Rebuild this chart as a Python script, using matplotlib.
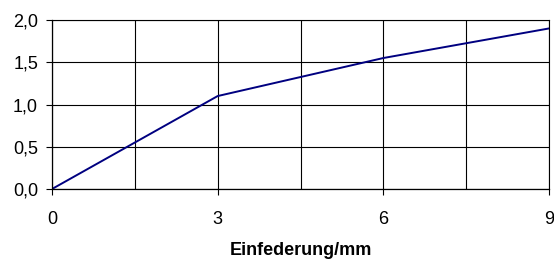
import numpy as np
import matplotlib.pyplot as plt

plt.rcParams['font.family'] = ['Liberation Sans', 'DejaVu Sans']

# Daten
einfederung = [0, 3, 6, 9]
kraft = [0.0, 1.1, 1.55, 1.9]
xticks = [0, 3, 6, 9]
yticks = [0.0, 0.5, 1.0, 1.5, 2.0]

fig = plt.figure(figsize=(5.54, 2.59), dpi=100)
ax = fig.add_axes([52/554, 1-189/259, 497/554, 169/259])

ax.plot(einfederung, kraft, color='#000080', linewidth=1.4, solid_joinstyle='miter')

ax.set_xlim(0, 9)
ax.set_ylim(0, 2)
ax.set_xticks(xticks)
ax.set_xticks([1.5, 4.5, 7.5], minor=True)
ax.set_yticks(yticks)
ax.set_yticklabels([('%.1f' % v).replace('.', ',') for v in yticks])
ax.tick_params(axis='both', which='major', labelsize=13, direction='out', length=4, width=0.8, color='black')
ax.tick_params(axis='x', which='minor', length=0)
ax.tick_params(axis='x', pad=12)
ax.tick_params(axis='y', pad=6)

ax.grid(True, which='both', color='black', linewidth=0.8)
ax.set_axisbelow(True)
for s in ['left', 'bottom']:
    ax.spines[s].set_linewidth(0.9)
ax.spines['top'].set_linewidth(0.8)
ax.spines['right'].set_linewidth(0.8)

ax.set_xlabel('Einfederung/mm', fontsize=13, fontweight='bold', labelpad=10)

fig.savefig('out.png', dpi=100)
